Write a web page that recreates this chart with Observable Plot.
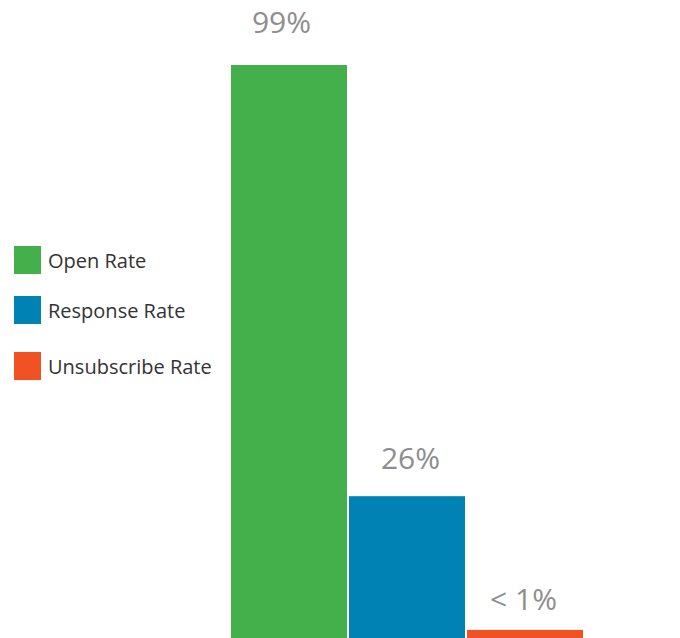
<!DOCTYPE html>
<html>
<head>
<meta charset="utf-8">
<script src="https://cdn.jsdelivr.net/npm/d3@7"></script>
<script src="https://cdn.jsdelivr.net/npm/@observablehq/plot@0.6"></script>
<style>
  html, body { margin: 0; padding: 0; background: #fff; }
  #wrap { position: relative; width: 680px; height: 638px; overflow: hidden; }
  .legend-item { position: absolute; left: 14px; display: flex; align-items: center; font-family: "Open Sans", sans-serif; font-size: 20px; color: #333; }
  .legend-item span.sw { display: inline-block; width: 27px; height: 28px; margin-right: 7px; }
</style>
</head>
<body>
<div id="wrap"></div>
<script>
const categories = ["Open Rate", "Response Rate", "Unsubscribe Rate"];
const values = [99, 24.5, 1.4];
const labels = ["99%", "26%", "< 1%"];
const colors = ["#43b04b", "#0082b5", "#f15224"];

const data = categories.map((c, i) => ({name: c, value: values[i], label: labels[i], color: colors[i]}));

const labelOffsets = [{dx: -8, dy: -33}, {dx: 3, dy: -28}, {dx: -2, dy: -20}];

const chart = Plot.plot({
  width: 680,
  height: 638,
  marginLeft: 230,
  marginRight: 96,
  marginTop: 65,
  marginBottom: 0,
  style: {fontFamily: "Open Sans", background: "#fff", overflow: "visible"},
  x: {domain: categories, paddingInner: 0.02, paddingOuter: 0, axis: null},
  y: {domain: [0, 99], axis: null},
  marks: [
    Plot.barY(data, {x: "name", y: "value", fill: "color"}),
    ...data.map((d, i) => Plot.text([d], {
      x: "name", y: "value", text: "label",
      dx: labelOffsets[i].dx, dy: labelOffsets[i].dy,
      lineAnchor: "bottom", textAnchor: "middle",
      fontSize: 30, fill: "#8e8e8e"
    }))
  ]
});
const wrap = document.getElementById("wrap");
wrap.appendChild(chart);

const legendTops = [246, 296, 352];
categories.forEach((c, i) => {
  const item = document.createElement("div");
  item.className = "legend-item";
  item.style.top = legendTops[i] + "px";
  const sw = document.createElement("span");
  sw.className = "sw";
  sw.style.background = colors[i];
  item.appendChild(sw);
  item.appendChild(document.createTextNode(c));
  wrap.appendChild(item);
});
</script>
</body>
</html>
